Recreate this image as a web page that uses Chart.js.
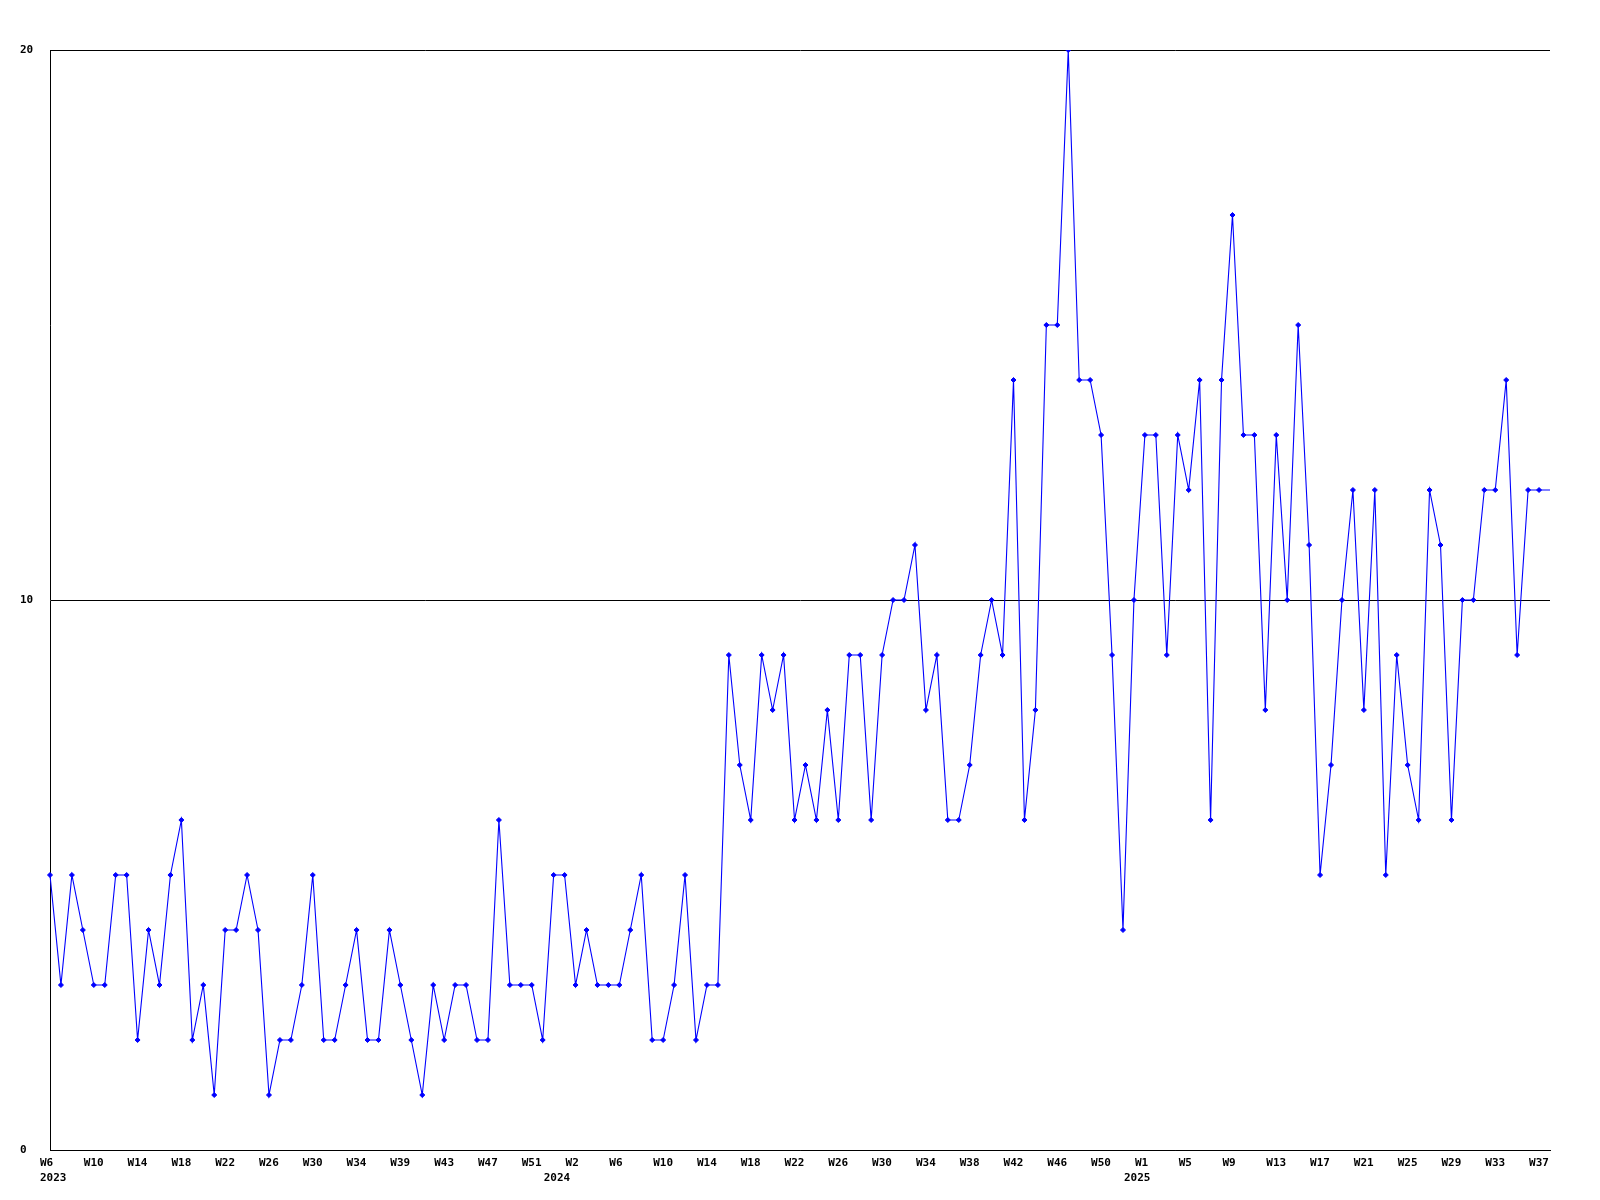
<!DOCTYPE html>
<html>
<head>
<meta charset="utf-8">
<script src="https://cdn.jsdelivr.net/npm/chart.js@4"></script>
<style>
  html, body { margin: 0; padding: 0; background: #fff; }
  #wrap { width: 1600px; height: 1200px; position: relative; }
</style>
</head>
<body>
<div id="wrap"><canvas id="weekly"></canvas></div>
<script>
// weekly counts, one per week starting W6 2023
var counts = [
    5, 3, 5, 4, 3, 3, 5, 5, 2, 4, 3, 5, 6, 2, 3, 1, 4, 4, 5, 4,
    1, 2, 2, 3, 5, 2, 2, 3, 4, 2, 2, 4, 3, 2, 1, 3, 2, 3, 3, 2,
    2, 6, 3, 3, 3, 2, 5, 5, 3, 4, 3, 3, 3, 4, 5, 2, 2, 3, 5, 2,
    3, 3, 9, 7, 6, 9, 8, 9, 6, 7, 6, 8, 6, 9, 9, 6, 9, 10, 10, 11,
    8, 9, 6, 6, 7, 9, 10, 9, 14, 6, 8, 15, 15, 20, 14, 14, 13, 9, 4, 10,
    13, 13, 9, 13, 12, 14, 6, 14, 17, 13, 13, 8, 13, 10, 15, 11, 5, 7, 10, 12,
    8, 12, 5, 9, 7, 6, 12, 11, 6, 10, 10, 12, 12, 14, 9, 12, 12, 12
];

// week labels shown on the axis, one every 4th point
var weekTicks = [
    'W6', 'W10', 'W14', 'W18', 'W22', 'W26', 'W30', 'W34', 'W39', 'W43', 'W47', 'W51',
    'W2', 'W6', 'W10', 'W14', 'W18', 'W22', 'W26', 'W30', 'W34', 'W38', 'W42', 'W46', 'W50',
    'W1', 'W5', 'W9', 'W13', 'W17', 'W21', 'W25', 'W29', 'W33', 'W37'
];
var years = ['2023', '2024', '2025'];
var yearStartIndex = [0, 46, 99];

var yTicks = [0, 10, 20];

var labels = counts.map(function (v, i) { return String(i); });

var tickFont = { family: 'DejaVu Sans Mono', size: 11, weight: 'bold', lineHeight: 1.4 };

var ctx = document.getElementById('weekly').getContext('2d');

var chart = new Chart(ctx, {
    type: 'line',
    data: {
        labels: labels,
        datasets: [{
            data: counts,
            borderColor: '#0000ff',
            backgroundColor: '#0000ff',
            borderWidth: 1.1,
            tension: 0,
            pointStyle: 'rectRot',
            pointRadius: function (c) { return c.dataIndex === counts.length - 1 ? 0 : 2.5; },
            pointBorderWidth: 1,
            pointBackgroundColor: '#0000ff',
            pointBorderColor: '#0000ff'
        }]
    },
    options: {
        responsive: true,
        maintainAspectRatio: false,
        animation: false,
        layout: { padding: { left: 20, right: 50, top: 50, bottom: 0 } },
        plugins: {
            legend: { display: false },
            tooltip: { enabled: false }
        },
        scales: {
            x: {
                type: 'category',
                offset: false,
                grid: { display: false, drawTicks: false },
                border: { display: true, color: '#000', width: 1 },
                ticks: {
                    autoSkip: false,
                    maxRotation: 0,
                    minRotation: 0,
                    align: 'start',
                    labelOffset: -10,
                    padding: 5,
                    color: '#000',
                    font: tickFont,
                    callback: function (value, index) {
                        var week = index % 4 === 0 ? (weekTicks[index / 4] || '') : '';
                        var y = yearStartIndex.indexOf(index);
                        if (y >= 0) return [week, years[y]];
                        return week;
                    }
                },
                afterFit: function (scale) { scale.height = 50; }
            },
            y: {
                min: yTicks[0],
                max: yTicks[yTicks.length - 1],
                grid: { color: '#000', lineWidth: 1, drawTicks: false },
                border: { display: true, color: '#000', width: 1 },
                ticks: {
                    stepSize: 10,
                    crossAlign: 'far',
                    padding: 0,
                    color: '#000',
                    font: tickFont
                },
                afterBuildTicks: function (scale) {
                    scale.ticks = yTicks.map(function (v) { return { value: v }; });
                },
                afterFit: function (scale) { scale.width = 30; }
            }
        }
    }
});
</script>
</body>
</html>
